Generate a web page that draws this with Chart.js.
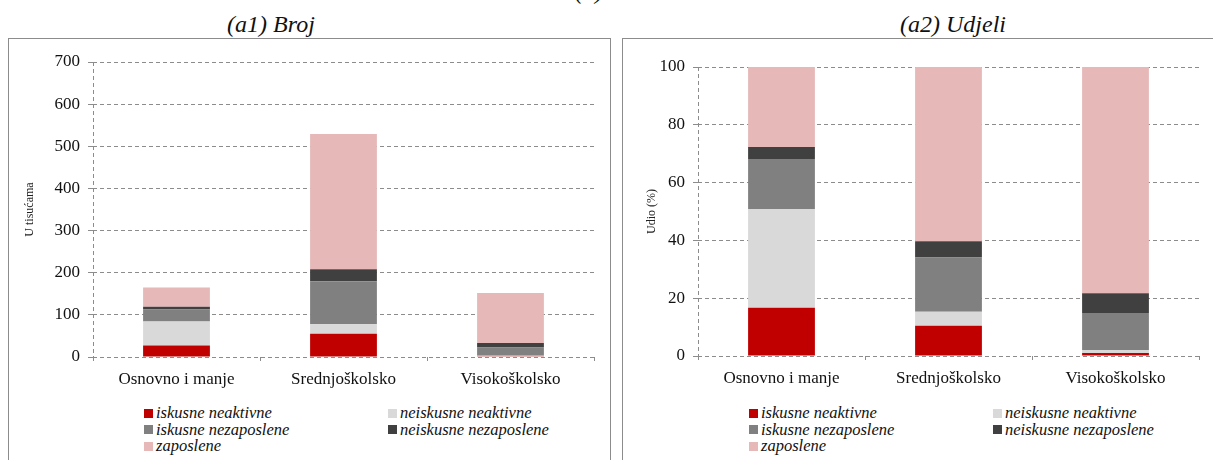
<!DOCTYPE html>
<html>
<head>
<meta charset="utf-8">
<script src="https://cdn.jsdelivr.net/npm/chart.js@4.4.0/dist/chart.umd.min.js"></script>
<style>
  body { margin: 0; width: 1213px; height: 460px; overflow: hidden; background: #fff; position: relative; font-family: "Liberation Serif", serif; color: #111; }
  .title { position: absolute; font-style: italic; font-size: 24px; line-height: 28px; transform: translateX(-50%); white-space: nowrap; }
  .panel { position: absolute; top: 38px; height: 440px; border: 1px solid #8c8c8c; }
  .panel canvas { position: absolute; left: 0; top: 0; }
  .legend { position: absolute; top: 366px; display: grid; grid-template-columns: 244px 244px; font-style: italic; font-size: 16.5px; line-height: 16.5px; }
  .legend span { display: flex; align-items: center; white-space: nowrap; }
  .legend i { display: inline-block; width: 9px; height: 9px; margin-right: 3px; }
</style>
</head>
<body>
<div class="title" style="left:589px; top:-23px;">(a)</div>
<div class="title" style="left:271px; top:10px;">(a1) Broj</div>
<div class="title" style="left:953px; top:10px;">(a2) Udjeli</div>

<div class="panel" style="left:8px; width:601px;">
  <canvas id="broj" width="601" height="352"></canvas>
  <div class="legend" id="legBroj" style="left:135px;"></div>
</div>
<div class="panel" style="left:622px; width:600px;">
  <canvas id="udjeli" width="590" height="352"></canvas>
  <div class="legend" id="legUdjeli" style="left:126px;"></div>
</div>

<script>
// kategorije i nazivi serija
var categories = ["Osnovno i manje", "Srednjoškolsko", "Visokoškolsko"];
var seriesNames = ["iskusne neaktivne", "neiskusne neaktivne", "iskusne nezaposlene", "neiskusne nezaposlene", "zaposlene"];

// (a1) broj, u tisućama
var brojIskusneNeaktivne = [27.5, 55, 1.5];
var brojNeiskusneNeaktivne = [56.5, 23, 1.7];
var brojIskusneNezaposlene = [28.5, 102, 19.5];
var brojNeiskusneNezaposlene = [6.8, 28, 10.3];
var brojZaposlene = [45.7, 321, 119];

// (a2) udjeli, %
var udioIskusneNeaktivne = [16.7, 10.5, 1.0];
var udioNeiskusneNeaktivne = [34.2, 4.8, 1.1];
var udioIskusneNezaposlene = [17.3, 18.8, 12.8];
var udioNeiskusneNezaposlene = [4.1, 5.6, 6.8];
var udioZaposlene = [27.7, 60.3, 78.3];

var brojTicks = [0, 700, 100];   // min, max, korak
var udioTicks = [0, 100, 20];

var colors = ["#C00000", "#D9D9D9", "#808080", "#404040", "#E6B9B8"];
var gridColor = "#8c8c8c";

function makeDatasets(series) {
  return series.map(function (vals, i) {
    return {
      label: seriesNames[i],
      data: vals,
      backgroundColor: colors[i],
      borderWidth: 0,
      barPercentage: 0.4,
      categoryPercentage: 1
    };
  });
}

function makeChart(id, series, ticks, yTitle, box) {
  return new Chart(document.getElementById(id), {
    type: 'bar',
    data: { labels: categories, datasets: makeDatasets(series) },
    options: {
      responsive: false,
      animation: false,
      layout: { padding: { left: 0, right: box.right, top: box.top, bottom: 0 } },
      plugins: { legend: { display: false }, tooltip: { enabled: false } },
      scales: {
        x: {
          stacked: true,
          afterFit: function (s) { s.height = box.xHeight; },
          grid: {
            offset: true,
            drawOnChartArea: true,
            color: function (c) { return (c.index === 0 || c.index === categories.length) ? gridColor : 'transparent'; },
            tickColor: gridColor,
            tickLength: 4
          },
          border: { display: false, dash: [4, 3] },
          ticks: { color: '#111', padding: 8, font: { family: 'Liberation Serif', size: 17 } }
        },
        y: {
          stacked: true,
          min: ticks[0],
          max: ticks[1],
          afterFit: function (s) { s.width = box.yWidth; },
          grid: { color: gridColor, tickColor: gridColor, tickLength: 5 },
          border: { display: false, dash: [4, 3] },
          ticks: { stepSize: ticks[2], color: '#111', padding: 8, font: { family: 'Liberation Serif', size: 17 } },
          title: { display: true, text: yTitle, color: '#222', padding: { top: box.titlePad, bottom: 0 }, font: { family: 'Liberation Serif', size: 12 } }
        }
      }
    }
  });
}

function makeLegend(id) {
  var el = document.getElementById(id);
  seriesNames.forEach(function (name, i) {
    var s = document.createElement('span');
    s.innerHTML = '<i style="background:' + colors[i] + '"></i>' + name;
    el.appendChild(s);
  });
}

makeChart('broj',
  [brojIskusneNeaktivne, brojNeiskusneNeaktivne, brojIskusneNezaposlene, brojNeiskusneNezaposlene, brojZaposlene],
  brojTicks, 'U tisućama',
  { right: 16, top: 23, xHeight: 34, yWidth: 84, titlePad: 14 });

makeChart('udjeli',
  [udioIskusneNeaktivne, udioNeiskusneNeaktivne, udioIskusneNezaposlene, udioNeiskusneNezaposlene, udioZaposlene],
  udioTicks, 'Udio (%)',
  { right: 14, top: 28, xHeight: 35, yWidth: 75, titlePad: 22 });

makeLegend('legBroj');
makeLegend('legUdjeli');
</script>
</body>
</html>
